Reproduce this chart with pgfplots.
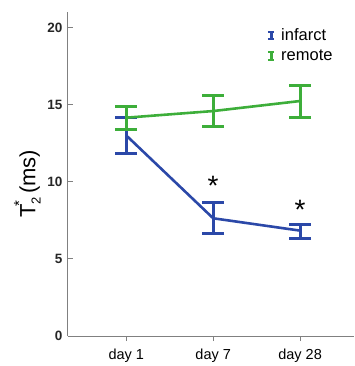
\documentclass[border=0pt]{standalone}
\usepackage{pgfplots}
\pgfplotsset{compat=1.18}
\usepackage{pgfplotstable}
\usepackage{fontspec}
\setmainfont{Liberation Sans}
\definecolor{cblue}{HTML}{2B48A8}
\definecolor{cgreen}{HTML}{3DAE3A}
\definecolor{axgray}{HTML}{808080}
\pgfplotstableread{
x y ep em
0 13.0 1.17 1.20
1 7.63 1.03 0.98
2 6.83 0.41 0.48
}\infarct
\pgfplotstableread{
x y ep em
0 14.15 0.71 0.76
1 14.58 0.99 1.02
2 15.23 1.02 1.04
}\remote
\begin{document}
\begin{tikzpicture}
\begin{axis}[
  scale only axis,
  width=286pt, height=324pt,
  xmin=-0.67, xmax=2.62,
  ymin=0, ymax=21,
  axis lines=left,
  axis line style={-, axgray, line width=1pt},
  xtick={0,1,2},
  xticklabels={day 1, day 7, day 28},
  ytick={0,5,10,15,20},
  tick style={axgray, line width=1pt},
  tick align=outside,
  major tick length=5pt,
  y tick style={xshift=5pt},
  y tick label style={font=\fontsize{13.5}{15}\selectfont\bfseries, text=black!85, xshift=3pt},
  x tick label style={font=\fontsize{14.5}{16}\selectfont, yshift=-4pt},
  /pgf/number format/assume math mode=true,
  ylabel={T\raisebox{-0.45ex}{\fontsize{13}{13}\selectfont 2}\hspace{-0.42em}\raisebox{0.95ex}{\fontsize{15}{15}\selectfont *}\hspace{0.3em}(ms)},
  ylabel style={font=\fontsize{22}{24}\selectfont, at={(ticklabel cs:0.47)}},
  legend style={draw=none, fill=none, at={(0.695,0.955)}, anchor=north west,
    font=\fontsize{16.5}{18}\selectfont, row sep=4pt, inner sep=0pt},
  legend cell align=left,
  legend image code/.code={
    \draw[#1, line width=2.8pt] (0.14cm,-0.14cm) -- (0.14cm,0.14cm);
    \draw[#1, line width=2pt] (0.03cm,-0.14cm) -- (0.25cm,-0.14cm) (0.03cm,0.14cm) -- (0.25cm,0.14cm);
    \path (0.38cm,0);
  },
  clip=false,
]
\addplot[cblue, line width=2.6pt, mark=none,
  error bars/.cd, y dir=both, y explicit,
  error bar style={line width=2.8pt},
  error mark options={rotate=90, mark size=11pt, line width=3pt}]
  table[x=x, y=y, y error plus=ep, y error minus=em]{\infarct};
\addlegendentry{infarct}
\addplot[cgreen, line width=2.6pt, mark=none,
  error bars/.cd, y dir=both, y explicit,
  error bar style={line width=2.8pt},
  error mark options={rotate=90, mark size=11pt, line width=3pt}]
  table[x=x, y=y, y error plus=ep, y error minus=em]{\remote};
\addlegendentry{remote}
\node[font=\fontsize{28}{28}\selectfont] at (axis cs:1,9.75) {*};
\node[font=\fontsize{28}{28}\selectfont] at (axis cs:2,8.2) {*};
\end{axis}
\pgfresetboundingbox
\path ([xshift=-68pt,yshift=-30pt]current axis.south west) rectangle ([yshift=12pt]current axis.north east);
\end{tikzpicture}
\end{document}
